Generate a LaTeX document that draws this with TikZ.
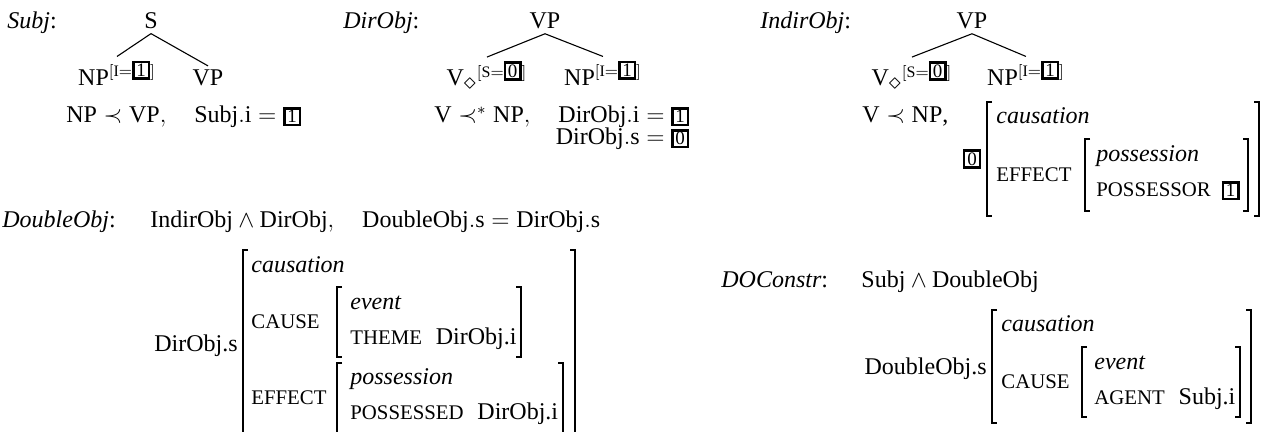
\documentclass[tikz,border=0pt]{standalone}
\usepackage{fontspec}
\setmainfont{Liberation Serif}
\usetikzlibrary{calc}

% boxed tag numbers and small-cap feature names
\newcommand{\tagbox}[1]{{\setlength{\fboxsep}{0.4pt}\setlength{\fboxrule}{1.2pt}\fbox{\fontsize{9.5}{9.5}\selectfont\kern0.5pt#1\kern0.5pt}}}
\newcommand{\feat}[1]{{\fontsize{10.4}{12}\selectfont #1}}

\tikzset{
  every node/.style={font=\fontsize{12}{14}\selectfont},
  txt/.style={inner sep=0pt, anchor=base west},
  txtr/.style={inner sep=0pt, anchor=base east},
  tnode/.style={inner xsep=0pt, inner ysep=2pt, anchor=base},
  edge/.style={line width=0.55pt},
  brk/.style={line width=0.65pt},
}

\begin{document}
\begin{tikzpicture}[x=0.5pt,y=-0.5pt]
\useasboundingbox (0,0) rectangle (1265,432);
\clip (0,0) rectangle (1265,432);

% ---------------- Subj ----------------
\node[txt] (subjlab) at (7,29) {\textit{Subj}:};
\node[tnode] (s) at (151,29) {S};
\node[tnode] (np1) at (117,86) {$\mathrm{NP}^{[\mathrm{I}=\tagbox{1}]}$};
\node[tnode] (vp1) at (208,86) {VP};
\draw[edge] (s.south) -- (np1.north);
\draw[edge] (s.south) -- (vp1.north);
\node[txt] (subjc) at (66,123) {$\mathrm{NP}\prec\mathrm{VP},\quad \mathrm{Subj.i}=\tagbox{1}$};

% ---------------- DirObj ----------------
\node[txt] (dirlab) at (343,29) {\textit{DirObj}:};
\node[tnode] (vp2) at (545,29) {VP};
\node[tnode] (v2) at (487,86) {$\mathrm{V}_{\textstyle\diamond}{}^{[\mathrm{S}=\tagbox{0}]}$};
\node[tnode] (np2) at (603,86) {$\mathrm{NP}^{[\mathrm{I}=\tagbox{1}]}$};
\draw[edge] (vp2.south) -- (v2.north);
\draw[edge] (vp2.south) -- (np2.north);
\node[txt] (dirc) at (434,123) {$\mathrm{V}\prec^{*}\mathrm{NP},\quad \mathrm{DirObj.i}=\tagbox{1}$};
\node[txtr] (dirc2) at ($(dirc.base east)+(0,22)$) {$\mathrm{DirObj.s}=\tagbox{0}$};

% ---------------- IndirObj ----------------
\node[txt] (indlab) at (760,29) {\textit{IndirObj}:};
\node[tnode] (vp3) at (972,29) {VP};
\node[tnode] (v3) at (912,86) {$\mathrm{V}_{\textstyle\diamond}{}^{[\mathrm{S}=\tagbox{0}]}$};
\node[tnode] (np3) at (1026,86) {$\mathrm{NP}^{[\mathrm{I}=\tagbox{1}]}$};
\draw[edge] (vp3.south) -- (v3.north);
\draw[edge] (vp3.south) -- (np3.north);
\node[txt] (indc) at (862,123) {$\mathrm{V}\prec\mathrm{NP}$,};
% feature structure
\node[inner sep=0pt] (it0) at (972,159) {\tagbox{0}};
\node[txt] (icaus) at (996,124) {\textit{causation}};
\node[txt] (ieff) at (996,181.9) {\feat{EFFECT}};
\node[txt] (ipos) at (1096,162) {\textit{possession}};
\node[txt] (ipsr) at (1096,197) {\feat{POSSESSOR}};
\node[txt] (it1) at ($(ipsr.base east)+(10,0)$) {\tagbox{1}};
\draw[brk] (992,102) -- (987,102) -- (987,216) -- (992,216);
\draw[brk] (1254,102) -- (1259,102) -- (1259,216) -- (1254,216);
\draw[brk] (1090,139) -- (1085,139) -- (1085,211) -- (1090,211);
\draw[brk] (1243,139) -- (1248,139) -- (1248,211) -- (1243,211);

% ---------------- DoubleObj ----------------
\node[txt] (dblab) at (2,228) {\textit{DoubleObj}:};
\node[txt] (dbc) at (150,228) {$\mathrm{IndirObj}\wedge\mathrm{DirObj},\quad \mathrm{DoubleObj.s}=\mathrm{DirObj.s}$};
\node[txtr] (dbs) at (238,351.4) {DirObj.s};
\node[txt] (dcaus) at (251,273) {\textit{causation}};
\node[txt] (dcause) at (251,328.9) {\feat{CAUSE}};
\node[txt] (deff) at (251,404.9) {\feat{EFFECT}};
\node[txt] (dev) at (350,310) {\textit{event}};
\node[txt] (dth) at (350,345) {\feat{THEME}};
\node[txt] (dthv) at ($(dth.base east)+(13,0)$) {DirObj.i};
\node[txt] (dpos) at (350,385) {\textit{possession}};
\node[txt] (dpsd) at (350,420) {\feat{POSSESSED}};
\node[txt] (dpsdv) at ($(dpsd.base east)+(13,0)$) {DirObj.i};
\draw[brk] (248,250) -- (243,250) -- (243,440) -- (248,440);
\draw[brk] (570,250) -- (575,250) -- (575,440) -- (570,440);
\draw[brk] (342,287) -- (337,287) -- (337,357) -- (342,357);
\draw[brk] (516,287) -- (521,287) -- (521,357) -- (516,357);
\draw[brk] (342,363) -- (337,363) -- (337,437) -- (342,437);
\draw[brk] (558,363) -- (563,363) -- (563,437) -- (558,437);

% ---------------- DOConstr ----------------
\node[txt] (dolab) at (721,288) {\textit{DOConstr}:};
\node[txt] (doc) at (861,288) {$\mathrm{Subj}\wedge\mathrm{DoubleObj}$};
\node[txtr] (dos) at (987,374.4) {DoubleObj.s};
\node[txt] (ocaus) at (1001,332) {\textit{causation}};
\node[txt] (ocause) at (1001,388.9) {\feat{CAUSE}};
\node[txt] (oev) at (1094,370) {\textit{event}};
\node[txt] (oag) at (1094,405) {\feat{AGENT}};
\node[txt] (oagv) at ($(oag.base east)+(13,0)$) {Subj.i};
\draw[brk] (997,310) -- (992,310) -- (992,423) -- (997,423);
\draw[brk] (1246,310) -- (1251,310) -- (1251,423) -- (1246,423);
\draw[brk] (1087,347) -- (1082,347) -- (1082,417) -- (1087,417);
\draw[brk] (1235,347) -- (1240,347) -- (1240,417) -- (1235,417);
\end{tikzpicture}
\end{document}
